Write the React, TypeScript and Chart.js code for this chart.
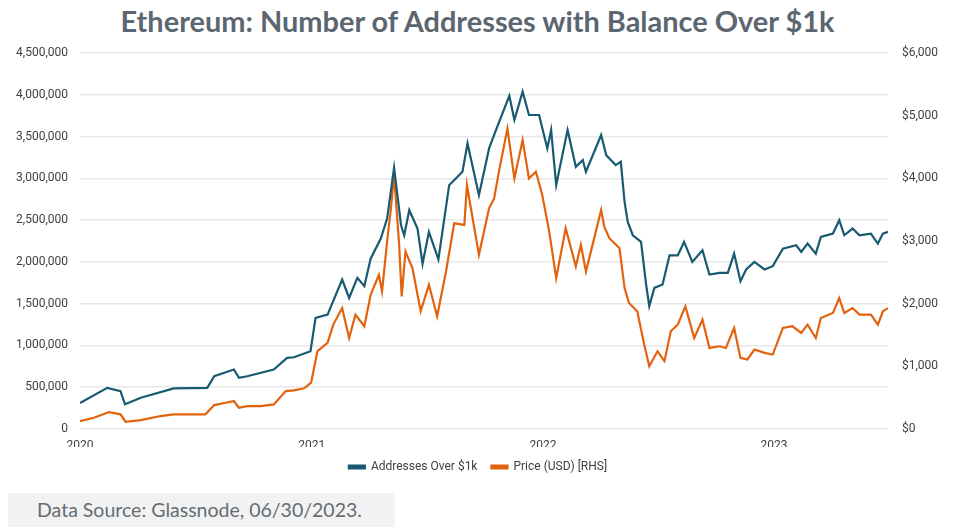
import React, { useEffect, useRef } from 'react';
import { Chart, registerables } from 'chart.js';

Chart.register(...registerables);

const TITLE = 'Ethereum: Number of Addresses with Balance Over $1k';
const SOURCE = 'Data Source: Glassnode, 06/30/2023.';
const seriesNames = ['Addresses Over $1k', 'Price (USD) [RHS]'];
const yearLabels = ['2020', '2021', '2022', '2023'];

const addrDates = [
  '2020-01-01', '2020-02-13', '2020-03-05', '2020-03-12', '2020-04-06', '2020-05-28', '2020-07-20', '2020-07-31',
  '2020-08-31', '2020-09-08', '2020-09-21', '2020-11-02', '2020-11-23', '2020-12-04', '2020-12-30', '2021-01-07',
  '2021-01-26', '2021-02-18', '2021-03-01', '2021-03-14', '2021-03-25', '2021-04-04', '2021-04-20', '2021-04-30',
  '2021-05-11', '2021-05-22', '2021-05-27', '2021-06-04', '2021-06-17', '2021-06-25', '2021-07-05', '2021-07-20',
  '2021-08-06', '2021-08-27', '2021-09-04', '2021-09-22', '2021-10-08', '2021-10-21', '2021-11-09', '2021-11-17',
  '2021-11-30', '2021-12-10', '2021-12-26', '2022-01-08', '2022-01-14', '2022-01-22', '2022-02-09', '2022-02-22',
  '2022-03-05', '2022-03-10', '2022-04-03', '2022-04-11', '2022-04-16', '2022-04-26', '2022-05-04', '2022-05-10',
  '2022-05-15', '2022-05-23', '2022-06-05', '2022-06-13', '2022-06-18', '2022-06-26', '2022-07-09', '2022-07-20',
  '2022-08-02', '2022-08-12', '2022-08-25', '2022-09-10', '2022-09-21', '2022-10-07', '2022-10-20', '2022-10-30',
  '2022-11-09', '2022-11-18', '2022-12-01', '2022-12-17', '2022-12-30', '2023-01-15', '2023-02-05', '2023-02-13',
  '2023-02-23', '2023-03-08', '2023-03-16', '2023-04-04', '2023-04-14', '2023-04-22', '2023-05-05', '2023-05-16',
  '2023-06-03', '2023-06-14', '2023-06-22', '2023-06-30',
];
const addrValues = [
  310000, 493000, 453000, 295000, 374000, 486000, 493000, 632000,
  712000, 612000, 632000, 712000, 851000, 859000, 931000, 1330000,
  1370000, 1790000, 1570000, 1810000, 1710000, 2040000, 2280000, 2520000,
  3130000, 2440000, 2320000, 2620000, 2400000, 1980000, 2360000, 2030000,
  2920000, 3080000, 3420000, 2800000, 3360000, 3620000, 3990000, 3700000,
  4040000, 3760000, 3760000, 3360000, 3580000, 2920000, 3580000, 3140000,
  3220000, 3080000, 3520000, 3280000, 3240000, 3160000, 3200000, 2720000,
  2480000, 2320000, 2240000, 1730000, 1470000, 1690000, 1730000, 2080000,
  2080000, 2240000, 2000000, 2140000, 1850000, 1870000, 1870000, 2100000,
  1770000, 1910000, 2000000, 1910000, 1950000, 2160000, 2200000, 2120000,
  2220000, 2100000, 2300000, 2340000, 2500000, 2320000, 2400000, 2320000,
  2340000, 2220000, 2340000, 2360000,
];

const priceDates = [
  '2020-01-01', '2020-01-23', '2020-02-16', '2020-03-05', '2020-03-13', '2020-04-06', '2020-05-07', '2020-05-28',
  '2020-06-29', '2020-07-17', '2020-07-31', '2020-08-18', '2020-08-31', '2020-09-08', '2020-09-21', '2020-10-12',
  '2020-11-02', '2020-11-21', '2020-12-04', '2020-12-20', '2020-12-31', '2021-01-10', '2021-01-26', '2021-02-04',
  '2021-02-18', '2021-03-01', '2021-03-11', '2021-03-25', '2021-04-04', '2021-04-17', '2021-04-22', '2021-04-30',
  '2021-05-06', '2021-05-11', '2021-05-19', '2021-05-23', '2021-05-29', '2021-06-09', '2021-06-22', '2021-07-05',
  '2021-07-18', '2021-08-01', '2021-08-14', '2021-08-30', '2021-09-03', '2021-09-12', '2021-09-22', '2021-09-30',
  '2021-10-08', '2021-10-16', '2021-10-24', '2021-11-06', '2021-11-17', '2021-11-30', '2021-12-10', '2021-12-21',
  '2021-12-31', '2022-01-11', '2022-01-22', '2022-02-06', '2022-02-22', '2022-03-02', '2022-03-10', '2022-04-03',
  '2022-04-08', '2022-04-16', '2022-05-02', '2022-05-10', '2022-05-17', '2022-05-30', '2022-06-10', '2022-06-18',
  '2022-07-01', '2022-07-12', '2022-07-22', '2022-08-02', '2022-08-14', '2022-08-28', '2022-09-10', '2022-09-21',
  '2022-10-07', '2022-10-17', '2022-10-30', '2022-11-09', '2022-11-20', '2022-12-01', '2022-12-17', '2022-12-30',
  '2023-01-15', '2023-01-30', '2023-02-13', '2023-02-23', '2023-03-08', '2023-03-16', '2023-04-04', '2023-04-14',
  '2023-04-22', '2023-05-05', '2023-05-16', '2023-06-03', '2023-06-14', '2023-06-22', '2023-06-30',
];
const priceValues = [
  125, 180, 270, 234, 116, 143, 207, 234,
  234, 234, 382, 419, 446, 339, 366, 366,
  393, 605, 616, 650, 740, 1242, 1374, 1667,
  1931, 1453, 1826, 1640, 2144, 2463, 2197, 2993,
  3523, 4055, 2940, 2117, 2834, 2568, 1879, 2304,
  1799, 2515, 3284, 3259, 3896, 3364, 2781, 3152,
  3523, 3682, 4134, 4797, 4001, 4612, 4001, 4107,
  3736, 3152, 2409, 3205, 2595, 2940, 2515, 3497,
  3232, 3046, 2886, 2250, 2011, 1879, 1348, 1003,
  1242, 1083, 1560, 1667, 1958, 1453, 1746, 1294,
  1321, 1294, 1613, 1135, 1110, 1269, 1215, 1189,
  1613, 1640, 1533, 1667, 1453, 1772, 1852, 2090,
  1852, 1931, 1826, 1826, 1667, 1879, 1931,
];

const BLUE = '#175a72';
const ORANGE = '#e2620e';
const TICK_COLOR = '#3f3f3f';
const GRID_COLOR = '#e8e8e8';
const FONT = 'Roboto, "Noto Sans", sans-serif';

const toTime = (d: string) => Date.parse(d + 'T00:00:00Z');

export default function App() {
  const canvasRef = useRef<HTMLCanvasElement | null>(null);
  const titleRef = useRef<HTMLSpanElement | null>(null);

  useEffect(() => {
    const t = titleRef.current;
    if (t) {
      const w = t.getBoundingClientRect().width;
      if (w > 0) t.style.transform = `scaleX(${714 / w})`;
    }
  }, []);

  useEffect(() => {
    if (!canvasRef.current) return;
    const chart = new Chart(canvasRef.current, {
      type: 'line',
      data: {
        datasets: [
          {
            label: seriesNames[0],
            data: addrDates.map((d, i) => ({ x: toTime(d), y: addrValues[i] })),
            borderColor: BLUE,
            backgroundColor: BLUE,
            borderWidth: 2.2,
            pointRadius: 0,
            tension: 0,
            yAxisID: 'y',
          },
          {
            label: seriesNames[1],
            data: priceDates.map((d, i) => ({ x: toTime(d), y: priceValues[i] })),
            borderColor: ORANGE,
            backgroundColor: ORANGE,
            borderWidth: 2.2,
            pointRadius: 0,
            tension: 0,
            yAxisID: 'y1',
          },
        ],
      },
      options: {
        animation: false,
        responsive: false,
        maintainAspectRatio: false,
        layout: { padding: { top: 3, bottom: 0, left: 0, right: 0 } },
        plugins: {
          tooltip: { enabled: false },
          title: { display: false },
          legend: {
            position: 'bottom',
            labels: {
              boxWidth: 16,
              boxHeight: 3,
              padding: 14,
              color: TICK_COLOR,
              font: { family: FONT, size: 12 },
            },
          },
        },
        scales: {
          x: {
            type: 'linear',
            min: toTime('2020-01-01'),
            max: toTime('2023-06-30'),
            grid: { display: false, drawTicks: false },
            border: { display: false },
            afterBuildTicks: (scale: any) => {
              scale.ticks = yearLabels.map((y) => ({ value: toTime(y + '-01-01') }));
            },
            afterFit: (scale: any) => {
              scale.height = 18;
            },
            ticks: {
              autoSkip: false,
              maxRotation: 0,
              padding: 10,
              color: TICK_COLOR,
              font: { family: FONT, size: 12 },
              callback: (v: any) => String(new Date(Number(v)).getUTCFullYear()),
            },
          },
          y: {
            position: 'left',
            min: 0,
            max: 4500000,
            grid: { color: GRID_COLOR, lineWidth: 1.5, drawTicks: false },
            border: { display: false },
            afterFit: (scale: any) => {
              scale.width = 80;
            },
            ticks: {
              stepSize: 500000,
              padding: 12,
              color: TICK_COLOR,
              font: { family: FONT, size: 12 },
              callback: (v: any) => Number(v).toLocaleString('en-US'),
            },
          },
          y1: {
            position: 'right',
            min: 0,
            max: 6000,
            grid: { display: false, drawTicks: false },
            border: { display: false },
            afterFit: (scale: any) => {
              scale.width = 68;
            },
            ticks: {
              stepSize: 1000,
              padding: 14,
              color: TICK_COLOR,
              font: { family: FONT, size: 12 },
              callback: (v: any) => '$' + Number(v).toLocaleString('en-US'),
            },
          },
        },
      },
    } as any);
    return () => chart.destroy();
  }, []);

  return (
    <div style={{ position: 'absolute', left: 0, top: 0, width: 956, height: 527, background: '#fff', overflow: 'hidden' }}>
      <div
        style={{
          position: 'absolute',
          left: 0,
          top: 4,
          width: 956,
          textAlign: 'center',
          lineHeight: '34px',
          whiteSpace: 'nowrap',
        }}
      >
        <span
          ref={titleRef}
          style={{
            display: 'inline-block',
            transformOrigin: 'center',
            fontFamily: 'Lato, "Open Sans", sans-serif',
            fontWeight: 700,
            fontSize: 28,
            color: '#5b6670',
          }}
        >
          {TITLE}
        </span>
      </div>
      <div style={{ position: 'absolute', left: 0, top: 32, width: 956, height: 451 }}>
        <canvas ref={canvasRef} width={956} height={451} style={{ width: 956, height: 451 }} />
      </div>
      <div
        style={{
          position: 'absolute',
          left: 8,
          top: 493,
          width: 387,
          height: 34,
          background: '#f2f2f2',
        }}
      >
        <div
          style={{
            position: 'absolute',
            left: 29,
            top: 5,
            fontFamily: 'Lato, "Open Sans", sans-serif',
            fontSize: 19.5,
            color: '#646d74',
            whiteSpace: 'nowrap',
          }}
        >
          {SOURCE}
        </div>
      </div>
    </div>
  );
}
